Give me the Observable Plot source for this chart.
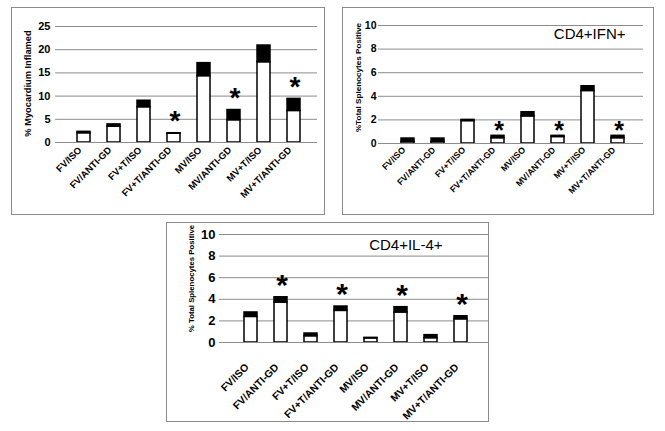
<!DOCTYPE html>
<html>
<head>
<meta charset="utf-8">
<script src="https://cdn.jsdelivr.net/npm/d3@7"></script>
<script src="https://cdn.jsdelivr.net/npm/@observablehq/plot@0.6"></script>
<style>
  html, body { margin: 0; padding: 0; background: #fff; }
  #wrap { position: relative; width: 665px; height: 431px; overflow: hidden; font-family: "Liberation Sans", Arial, sans-serif; }
  .box { position: absolute; border: 1px solid #8a8a8a; box-sizing: border-box; }
  .panel { position: absolute; }
</style>
</head>
<body>
<div id="wrap"></div>
<script>
// ---- data ----
const categories = ["FV/ISO", "FV/ANTI-GD", "FV+T/ISO", "FV+T/ANTI-GD", "MV/ISO", "MV/ANTI-GD", "MV+T/ISO", "MV+T/ANTI-GD"];

// Panel A: % Myocardium Inflamed (white = mean part, total = mean + error)
const myoMean  = [2.0, 3.4, 7.6, 1.9, 14.3, 4.8, 17.3, 6.8];
const myoTotal = [2.3, 3.9, 9.0, 2.0, 17.1, 7.0, 20.9, 9.4];
const myoStars = ["FV+T/ANTI-GD", "MV/ANTI-GD", "MV+T/ANTI-GD"];
const myoTicks = [0, 5, 10, 15, 20, 25];

// Panel B: CD4+IFN+
const ifnMean  = [0.15, 0.15, 1.9, 0.45, 2.3, 0.55, 4.45, 0.45];
const ifnTotal = [0.42, 0.42, 2.0, 0.65, 2.65, 0.65, 4.85, 0.65];
const ifnStars = ["FV+T/ANTI-GD", "MV/ANTI-GD", "MV+T/ANTI-GD"];

// Panel C: CD4+IL-4+
const il4Mean  = [2.37, 3.7, 0.58, 2.93, 0.38, 2.78, 0.4, 2.15];
const il4Total = [2.78, 4.19, 0.83, 3.33, 0.43, 3.27, 0.68, 2.43];
const il4Stars = ["FV/ANTI-GD", "FV+T/ANTI-GD", "MV/ANTI-GD", "MV+T/ANTI-GD"];

const pctTicks = [0, 2, 4, 6, 8, 10];

const FONT = "'Liberation Sans', Arial, sans-serif";

function rows(mean, total, stars) {
  return categories.map((c, i) => ({cat: c, mean: mean[i], total: total[i], star: stars.includes(c)}));
}

function panel(cfg) {
  const data = rows(cfg.mean, cfg.total, cfg.stars);
  const marks = [
    Plot.gridY(cfg.ticks, {stroke: "#8c8c8c", strokeOpacity: 1, strokeWidth: 1}),
    Plot.axisY(cfg.ticks, {tickSize: cfg.yTickSize, tickPadding: cfg.yTickPad, fontSize: cfg.yFont, fontWeight: "bold", fill: "#000", stroke: "#8c8c8c", label: null, tickFormat: d => String(d)}),
    Plot.ruleX([0], {frameAnchor: "left", stroke: "#8c8c8c"}),
    Plot.axisX({tickSize: 0, tickRotate: -45, tickPadding: cfg.xTickPad, dx: cfg.xDx, fontSize: cfg.xFont, fontWeight: "bold", fill: "#000", label: null}),
    Plot.barY(data, {x: "cat", y1: 0, y2: "mean", fill: "#fff", stroke: "#000", strokeWidth: 1.5}),
    Plot.barY(data, {x: "cat", y1: "mean", y2: "total", fill: "#000", stroke: "#000", strokeWidth: 1.5}),
    Plot.ruleY([0], {stroke: "#8c8c8c"}),
    Plot.text(data.filter(d => d.star), {x: "cat", y: "total", text: () => "*", fontSize: cfg.starFont, fontWeight: "bold", fill: "#000", lineAnchor: "middle", dy: cfg.starDy, dx: 1}),
    Plot.text([cfg.ylabel], {frameAnchor: "left", rotate: -90, fontSize: cfg.ylabelFont, fontWeight: "bold", fill: "#000", textAnchor: "middle", lineAnchor: "middle", dx: cfg.ylabelDx, dy: cfg.ylabelDy})
  ];
  if (cfg.title) {
    marks.push(Plot.text([cfg.title], {frameAnchor: "top-right", textAnchor: "end", lineAnchor: "middle", fontSize: 15, fill: "#000", dx: cfg.titleDx, dy: cfg.titleDy}));
  }
  return Plot.plot({
    width: cfg.width,
    height: cfg.height,
    marginLeft: cfg.ml, marginRight: cfg.mr, marginTop: cfg.mt, marginBottom: cfg.mb,
    style: {fontFamily: FONT, background: "transparent", overflow: "visible"},
    x: {domain: categories, padding: 0.58, axis: null},
    y: {domain: cfg.ydomain, axis: null},
    marks
  });
}

const panels = [
  {left: 11, top: 7, width: 314, height: 208, ml: 48, mr: 8, mt: 19, mb: 73,
   mean: myoMean, total: myoTotal, stars: myoStars, ticks: myoTicks, ydomain: [0, 25],
   yFont: 11, yTickSize: 4, yTickPad: 5, xFont: 9.5, xTickPad: 6, xDx: -4, starFont: 28, starDy: -12,
   ylabel: "% Myocardium Inflamed", ylabelFont: 9.3, ylabelDx: -31, ylabelDy: -1},
  {left: 342, top: 7, width: 312, height: 208, ml: 39, mr: 11, mt: 18, mb: 72,
   mean: ifnMean, total: ifnTotal, stars: ifnStars, ticks: pctTicks, ydomain: [0, 10],
   yFont: 10.5, yTickSize: 3, yTickPad: 2, xFont: 8.7, xTickPad: 5, xDx: -4, starFont: 25, starDy: -5,
   ylabel: "%Total Splenocytes Positive", ylabelFont: 8.1, ylabelDx: -23, ylabelDy: -7,
   title: "CD4+IFN+", titleDx: -18, titleDy: 9},
  {left: 166, top: 222, width: 323, height: 200, ml: 57, mr: 1, mt: 12, mb: 80,
   mean: il4Mean, total: il4Total, stars: il4Stars, ticks: pctTicks, ydomain: [0, 10],
   yFont: 13, yTickSize: 4, yTickPad: 4, xFont: 10.4, xTickPad: 23, xDx: -4, starFont: 30, starDy: -12,
   ylabel: "% Total Splenocytes Positive", ylabelFont: 7.8, ylabelDx: -32, ylabelDy: -10,
   title: "CD4+IL-4+", titleDx: -46, titleDy: 11}
];

const wrap = document.getElementById("wrap");
for (const p of panels) {
  const box = document.createElement("div");
  box.className = "box";
  Object.assign(box.style, {left: p.left + "px", top: p.top + "px", width: p.width + "px", height: p.height + "px"});
  wrap.appendChild(box);
  const svg = panel(p);
  svg.classList.add("panel");
  Object.assign(svg.style, {position: "absolute", left: p.left + "px", top: p.top + "px"});
  wrap.appendChild(svg);
}
</script>
</body>
</html>
